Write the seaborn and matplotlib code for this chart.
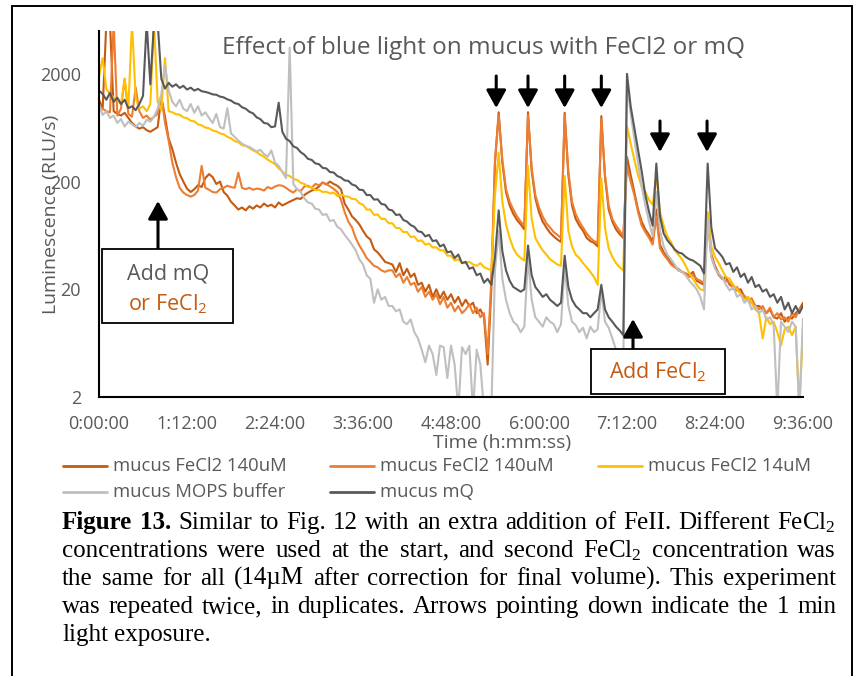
import matplotlib
matplotlib.use("Agg")
import matplotlib.pyplot as plt
import seaborn as sns
from matplotlib.lines import Line2D
from matplotlib.patches import Rectangle
from matplotlib.ticker import NullLocator

# ---------------- data (RLU/s, one reading every 3 min) ----------------
time_min = list(range(0, 577, 3))

mucus_fecl2_140_a = [
    1150, 950, 6000, 6000, 900, 850, 820, 870, 780, 700,
    650, 620, 640, 600, 580, 610, 640, 1200, 800, 500,
    400, 300, 235, 200, 172, 160, 170, 185, 178, 215,
    235, 220, 190, 200, 160, 148, 130, 120, 110, 115,
    108, 118, 112, 120, 115, 125, 118, 122, 115, 128,
    120, 125, 130, 135, 140, 138, 150, 158, 165, 170,
    180, 196, 188, 200, 190, 183, 170, 125, 110, 95,
    88, 80, 70, 62, 58, 47, 44, 40, 36, 35,
    34, 29, 35, 27, 31, 26, 28, 22, 23, 19,
    22, 17, 20, 16.5, 19, 16, 18, 15, 17, 14,
    16, 14, 15, 12, 13, 11, 4, 20, 300, 880,
    300, 160, 120, 100, 88, 80, 72, 880, 250, 140,
    104, 85, 75, 67, 62, 58, 55, 870, 230, 120,
    90, 78, 70, 60, 56, 54, 50, 810, 220, 110,
    85, 72, 65, 60, 340, 230, 160, 110, 85, 72,
    64, 55, 110, 52, 44, 40, 35, 33, 30, 29,
    28, 27, 29, 24, 23, 22, 100, 42, 33, 28,
    25, 26, 22, 21, 19.5, 20, 17, 16, 15, 14,
    14, 13, 12, 13, 11, 10.7, 12, 10, 11, 10.7,
    12, 13, 15,
]

mucus_fecl2_140_b = [
    1000, 950, 900, 880, 6000, 820, 950, 1800, 850, 800,
    1500, 900, 780, 820, 750, 800, 850, 1250, 700, 480,
    300, 220, 175, 158, 150, 145, 150, 165, 280, 175,
    168, 160, 158, 170, 175, 183, 178, 175, 242, 175,
    170, 175, 168, 172, 170, 165, 178, 172, 180, 185,
    183, 175, 165, 158, 170, 163, 180, 183, 175, 190,
    185, 196, 190, 180, 171, 160, 135, 104, 85, 75,
    60, 51, 45, 39, 36, 33, 32, 30, 29, 30,
    30, 26, 28, 23, 26, 22, 23, 19, 21, 17,
    19, 16, 18, 14.5, 17, 13.5, 15, 12.5, 14, 12,
    13, 14.5, 12, 13.5, 11, 12, 5, 25, 320, 820,
    320, 170, 130, 110, 95, 85, 78, 830, 270, 150,
    115, 95, 82, 75, 68, 64, 60, 820, 250, 130,
    100, 85, 75, 66, 60, 56, 54, 760, 230, 120,
    90, 78, 70, 62, 280, 200, 150, 105, 78, 68,
    60, 52, 95, 48, 42, 38, 34, 32, 31, 29,
    28, 26, 27, 25, 24, 23, 90, 40, 32, 27,
    25, 24, 23, 20, 21, 18, 17.5, 16, 16.5, 14,
    13, 14, 12, 13.5, 11, 12, 10.5, 11, 10, 12,
    11, 13, 14,
]

mucus_fecl2_14 = [
    1900, 2800, 1450, 1300, 1200, 1150, 1050, 1800, 950, 6000,
    1200, 950, 1000, 900, 1050, 6000, 1100, 920, 2800, 900,
    880, 845, 835, 790, 775, 735, 725, 680, 665, 635,
    625, 595, 585, 560, 550, 520, 505, 475, 465, 435,
    430, 410, 390, 375, 355, 340, 320, 305, 290, 265,
    248, 232, 225, 212, 207, 195, 190, 178, 177, 166,
    168, 160, 161, 155, 158, 147, 152, 146, 145, 138,
    137, 126, 122, 110, 110, 98, 99, 90, 90, 82,
    82, 74, 74, 68, 68, 61, 62, 56, 57, 52,
    53, 49, 49, 46, 46, 41, 41, 37, 38, 35,
    35, 36, 34, 33, 35, 32, 31, 30, 150, 370,
    130, 80, 60, 48, 42, 39, 37, 280, 90, 60,
    52, 46, 42, 38, 36, 34, 33, 225, 70, 50,
    42, 39, 35, 32, 29, 26, 22, 215, 75, 48,
    40, 35, 32, 30, 650, 450, 320, 230, 180, 160,
    135, 122, 230, 105, 78, 62, 55, 46, 42, 38,
    33, 28, 25, 22, 20, 19.5, 104, 50, 40, 35,
    30, 26, 25, 22, 20, 18, 16, 17, 15, 13,
    12, 7, 11, 9.5, 10, 8, 6, 8.5, 9, 7.5,
    9, 1.5, 9,
]

mucus_mops = [
    1050, 830, 900, 780, 820, 700, 760, 650, 720, 680,
    640, 700, 660, 750, 720, 800, 950, 1300, 2400, 1400,
    1100, 1000, 1150, 950, 900, 1050, 870, 1000, 820, 880,
    780, 700, 850, 640, 620, 960, 560, 520, 480, 450,
    430, 420, 400, 380, 395, 360, 340, 390, 300, 280,
    245, 215, 3500, 190, 170, 160, 140, 128, 125, 112,
    110, 98, 100, 86, 88, 76, 72, 64, 58, 52,
    46, 38, 34, 27, 25, 15, 20, 16, 17, 14,
    14, 12.5, 13, 10, 9.5, 10.5, 8, 7, 5.5, 4.2,
    6, 5, 3.2, 6, 5.8, 3, 6, 4, 1.5, 5.8,
    5, 6, 1.5, 5.5, 4, 1.5, 1.5, 1.5, 30, 70,
    25, 16, 12, 10, 9.3, 8, 9, 39, 16, 11,
    10, 9, 11, 10, 9.5, 8, 9.5, 33, 14, 10,
    9.3, 8, 8.8, 7, 9, 8, 8.5, 19.5, 10, 8.8,
    7, 5.5, 5.2, 4.5, 1700, 850, 500, 300, 180, 120,
    85, 62, 160, 70, 50, 42, 38, 34, 30, 29,
    27, 24, 22, 20, 17, 13, 90, 40, 31, 28,
    26, 22, 19.5, 21, 17, 18, 15, 16, 13, 14,
    12, 13, 10.5, 11, 9.3, 1.5, 10, 9, 8, 10,
    9, 1.5, 10.7,
]

mucus_mq = [
    1400, 1300, 1150, 1330, 1100, 1200, 1050, 1150, 960, 1000,
    920, 1050, 1250, 6000, 1600, 6000, 6000, 1800, 1460, 1650,
    1520, 1600, 1480, 1550, 1430, 1490, 1400, 1450, 1380, 1360,
    1330, 1290, 1280, 1230, 1210, 1160, 1130, 1070, 1050, 980,
    950, 890, 860, 790, 760, 700, 690, 640, 650, 1080,
    580, 500, 475, 425, 410, 375, 355, 325, 318, 295,
    290, 268, 265, 245, 243, 225, 218, 205, 203, 188,
    183, 168, 167, 150, 150, 136, 137, 124, 122, 110,
    108, 98, 99, 88, 85, 79, 76, 69, 68, 62,
    64, 56, 57, 50, 52, 44, 45, 39, 42, 35,
    36, 31, 32, 27, 28, 23, 25, 22, 40, 108,
    45, 30, 24, 21, 20, 19, 20, 51, 27, 21,
    19, 17, 18, 16, 15, 14, 15, 41, 21, 16,
    14, 13, 12, 12, 11, 12, 13, 22, 13, 11,
    10, 9, 8.3, 7.5, 2000, 1000, 630, 400, 250, 150,
    105, 78, 294, 95, 66, 57, 52, 47, 44, 43,
    40, 38, 37, 35, 33, 28, 294, 75, 48, 44,
    40, 34, 35, 29, 32, 26, 28, 23, 26, 21,
    22, 19, 20, 17, 18, 15, 17, 13, 15, 12,
    14, 12, 14,
]

series_labels = ["mucus FeCl2 140uM", "mucus FeCl2 140uM", "mucus FeCl2 14uM",
                 "mucus MOPS buffer", "mucus mQ"]
series_colors = ["#C55A11", "#ED7D31", "#FFC000", "#BFBFBF", "#595959"]

y_ticks = [2, 20, 200, 2000]
y_tick_labels = ["2", "20", "200", "2000"]
x_ticks = [0, 72, 144, 216, 288, 360, 432, 504, 576]
x_tick_labels = ["0:00:00", "1:12:00", "2:24:00", "3:36:00", "4:48:00",
                 "6:00:00", "7:12:00", "8:24:00", "9:36:00"]

title_text = "Effect of blue light on mucus with FeCl2 or mQ"
x_label = "Time (h:mm:ss)"
y_label = "Luminescence (RLU/s)"

# light-exposure arrows (time in min)
light_times = [325, 351, 381, 411, 459, 497.5]

# ---------------- style ----------------
sns.set_style("white")
plt.rcParams["font.family"] = ["Open Sans", "DejaVu Sans"]

W, H = 855, 676
fig = plt.figure(figsize=(W / 100, H / 100), dpi=100)
fig.patch.set_facecolor("white")


def fx(x):
    return x / W


def fy(y):
    return 1 - y / H


ax = fig.add_axes([fx(99), fy(397), 704 / W, 366 / H])
all_series = [mucus_fecl2_140_a, mucus_fecl2_140_b, mucus_fecl2_14, mucus_mops, mucus_mq]
for vals, col in zip(all_series, series_colors):
    sns.lineplot(x=time_min, y=vals, color=col, linewidth=1.5, ax=ax,
                 legend=False, estimator=None)

ax.set_yscale("log")
ax.set_ylim(2, 5000)
ax.set_xlim(0, 576)
ax.set_yticks(y_ticks)
ax.set_yticklabels(y_tick_labels)
ax.yaxis.set_minor_locator(NullLocator())
ax.set_xticks(x_ticks)
ax.set_xticklabels(x_tick_labels)
ax.set_xlabel("")
ax.set_ylabel("")
ax.tick_params(axis="both", length=0, labelsize=13, labelcolor="#595959")
ax.tick_params(axis="y", pad=13)
ax.tick_params(axis="x", pad=13)
for s in ["top", "right"]:
    ax.spines[s].set_visible(False)
for s in ["left", "bottom"]:
    ax.spines[s].set_color("black")
    ax.spines[s].set_linewidth(1.5)
ax.grid(False)
ax.set_facecolor("none")

# titles
fig.text(fx(484), fy(48), title_text, ha="center", va="center",
         fontsize=17.5, color="#595959")
fig.text(fx(502), fy(443), x_label, ha="center", va="center",
         fontsize=14, color="#595959")
fig.text(fx(51), fy(214), y_label, ha="center", va="center", rotation=90,
         fontsize=14, color="#595959")

# arrows
arrow_kw = dict(arrowstyle="-|>,head_length=0.9,head_width=0.5", color="black",
                lw=2.2, shrinkA=0, shrinkB=0, mutation_scale=12)


def arrow(x, y0, y1):
    ax.annotate("", xy=(x, H - y1), xycoords="figure pixels",
                xytext=(x, H - y0), textcoords="figure pixels",
                arrowprops=arrow_kw, annotation_clip=False, zorder=6)


arrow_px = [99 + t * 704 / 576 for t in light_times]
for i, xp in enumerate(arrow_px):
    if i < 4:
        arrow(xp, 76, 108)
    else:
        arrow(xp, 121, 152)

# annotation boxes
fig.add_artist(Rectangle((fx(102), fy(323)), (233 - 102) / W, (323 - 249) / H,
                         transform=fig.transFigure, facecolor="white",
                         edgecolor="black", lw=1.3, zorder=5))
arrow(158, 249, 201)
fig.text(fx(168), fy(274), "Add mQ", ha="center", va="center", fontsize=15.5,
         color="#595959", zorder=6)
fig.text(fx(168), fy(304), r"or FeCl$\mathregular{_2}$", ha="center", va="center",
         fontsize=15.5, color="#C55A11", zorder=6)

fig.add_artist(Rectangle((fx(591), fy(394)), (725 - 591) / W, (394 - 349) / H,
                         transform=fig.transFigure, facecolor="white",
                         edgecolor="black", lw=1.3, zorder=5))
arrow(633, 349, 319)
fig.text(fx(658), fy(372), r"Add FeCl$\mathregular{_2}$", ha="center", va="center",
         fontsize=15.5, color="#C55A11", zorder=6)

# legend (manual layout)
leg_pos = [(63, 466), (330, 466), (598, 466), (63, 492), (330, 492)]
for (lx, ly), lab, col in zip(leg_pos, series_labels, series_colors):
    fig.add_artist(Line2D([fx(lx), fx(lx + 44)], [fy(ly), fy(ly)],
                          transform=fig.transFigure, color=col, lw=2))
    fig.text(fx(lx + 50), fy(ly), lab, ha="left", va="center", fontsize=13.3,
             color="#595959")

# outer border
for xs, ys in [([12, 12], [6, 676]), ([12, 852], [6, 6]), ([852, 852], [6, 676])]:
    fig.add_artist(Line2D([fx(v) for v in xs], [fy(v) for v in ys],
                          transform=fig.transFigure, color="black", lw=1.4))

# caption, justified
cap_lines = [
    [("Figure", True), ("13.", True), ("Similar", False), ("to", False), ("Fig.", False),
     ("12", False), ("with", False), ("an", False), ("extra", False), ("addition", False),
     ("of", False), ("FeII.", False), ("Different", False), (r"FeCl$\mathregular{_2}$", False)],
    [(w, False) for w in "concentrations were used at the start, and second".split()]
    + [(r"FeCl$\mathregular{_2}$", False), ("concentration", False), ("was", False)],
    [(w, False) for w in "the same for all (14µM after correction for final volume). This experiment".split()],
    [(w, False) for w in "was repeated twice, in duplicates. Arrows pointing down indicate the 1 min".split()],
    [(w, False) for w in "light exposure.".split()],
]
cap_baselines = [529, 557, 585, 613, 641]
CAP_FS = 18
renderer = fig.canvas.get_renderer()
for li, (words, yb) in enumerate(zip(cap_lines, cap_baselines)):
    items = []
    for wtxt, bold in words:
        t = fig.text(0, fy(yb), wtxt, ha="left", va="baseline", fontsize=CAP_FS,
                     family="Liberation Serif", weight="bold" if bold else "normal",
                     color="black")
        wd = t.get_window_extent(renderer=renderer).width
        items.append((t, wd))
    total = sum(w for _, w in items)
    if li < len(cap_lines) - 1:
        gap = (836 - 62 - total) / (len(items) - 1)
    else:
        gap = 6
    xcur = 62
    for t, wd in items:
        t.set_x(fx(xcur))
        xcur += wd + gap

fig.savefig("out.png", dpi=100)
